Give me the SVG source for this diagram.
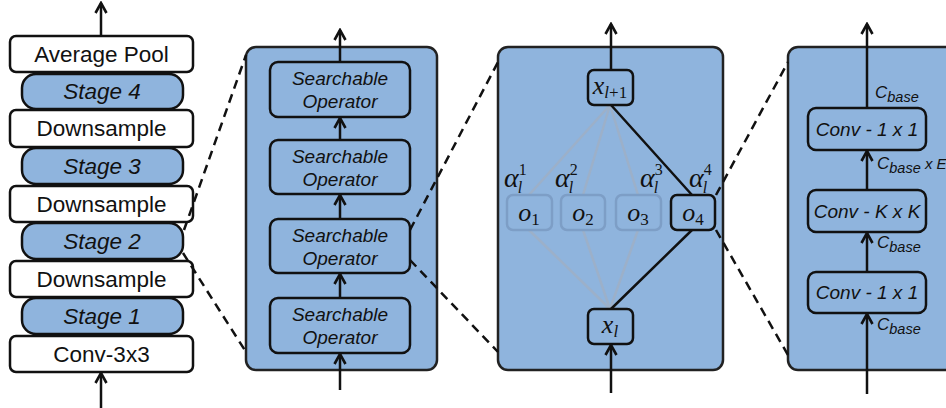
<svg xmlns="http://www.w3.org/2000/svg" width="946" height="408" viewBox="0 0 946 408">
  <defs>
    <marker id="arrow" viewBox="0 0 14 14" refX="12" refY="7" markerWidth="14" markerHeight="14" markerUnits="userSpaceOnUse" orient="auto">
      <path d="M2,1.5 L12,7 L2,12.5" fill="none" stroke="#111" stroke-width="2.6"/>
    </marker>
    <style>
      .box { fill: #ffffff; stroke: #111; stroke-width: 2.5; }
      .blue { fill: #8fb4dd; stroke: #111; stroke-width: 2.5; }
      .panel { fill: #8fb4dd; stroke: #222; stroke-width: 2.5; }
      .lbl { font-family: "Liberation Sans", Arial, sans-serif; fill: #111; text-anchor: middle; }
      .big { font-size: 22.5px; }
      .ital { font-style: italic; }
      .mid { font-size: 19px; }
      .chan { font-family: "Liberation Sans", Arial, sans-serif; font-style: italic; fill: #111; font-size: 17px; }
      .chan .sub { font-size: 14.5px; }
      .math { font-family: "Liberation Serif", "Times New Roman", serif; fill: #111; }
      .mi { font-style: italic; }
      .flow { stroke: #111; stroke-width: 2.5; fill: none; marker-end: url(#arrow); }
      .edge { stroke: #111; stroke-width: 2.5; fill: none; }
      .faint-edge { stroke: #9cb0c9; stroke-width: 2.5; fill: none; }
      .faint-box { fill: #8fb4dd; stroke: #7d9ec6; stroke-width: 2.5; }
      .dash { stroke: #111; stroke-width: 2.5; fill: none; stroke-dasharray: 9 6; }
    </style>
  </defs>

  <!-- Network backbone column -->
  <g id="net-avgpool">
    <rect class="box" x="10" y="36" width="183" height="36" rx="6"/>
    <text class="lbl big" x="101.5" y="62">Average Pool</text>
  </g>
  <g id="net-stage4">
    <rect class="blue" x="22" y="74" width="161" height="35" rx="14"/>
    <text class="lbl big ital" x="102" y="99">Stage 4</text>
  </g>
  <g id="net-down3">
    <rect class="box" x="10" y="110" width="183" height="37" rx="6"/>
    <text class="lbl big" x="101.5" y="136">Downsample</text>
  </g>
  <g id="net-stage3">
    <rect class="blue" x="22" y="148" width="161" height="36" rx="14"/>
    <text class="lbl big ital" x="102" y="174">Stage 3</text>
  </g>
  <g id="net-down2">
    <rect class="box" x="10" y="186" width="183" height="36" rx="6"/>
    <text class="lbl big" x="101.5" y="212">Downsample</text>
  </g>
  <g id="net-stage2">
    <rect class="blue" x="22" y="223" width="161" height="36" rx="14"/>
    <text class="lbl big ital" x="102" y="249">Stage 2</text>
  </g>
  <g id="net-down1">
    <rect class="box" x="10" y="261" width="183" height="36" rx="6"/>
    <text class="lbl big" x="101.5" y="287">Downsample</text>
  </g>
  <g id="net-stage1">
    <rect class="blue" x="22" y="298" width="161" height="36" rx="14"/>
    <text class="lbl big ital" x="102" y="324">Stage 1</text>
  </g>
  <g id="net-stem">
    <rect class="box" x="10" y="336" width="183" height="36" rx="6"/>
    <text class="lbl big" x="101.5" y="362">Conv-3x3</text>
  </g>

  <!-- Stage: stack of searchable operators -->
  <g id="stage-panel">
    <rect class="panel" x="246" y="47" width="191" height="323" rx="10"/>
  </g>
  <g id="op-4">
    <rect class="blue" x="270" y="62" width="140" height="55" rx="8"/>
    <text class="lbl mid ital" x="340" y="85">Searchable</text>
    <text class="lbl mid ital" x="340" y="108">Operator</text>
  </g>
  <g id="op-3">
    <rect class="blue" x="270" y="140" width="140" height="54" rx="8"/>
    <text class="lbl mid ital" x="340" y="163">Searchable</text>
    <text class="lbl mid ital" x="340" y="186">Operator</text>
  </g>
  <g id="op-2">
    <rect class="blue" x="270" y="219" width="140" height="54" rx="8"/>
    <text class="lbl mid ital" x="340" y="242">Searchable</text>
    <text class="lbl mid ital" x="340" y="265">Operator</text>
  </g>
  <g id="op-1">
    <rect class="blue" x="270" y="298" width="140" height="55" rx="8"/>
    <text class="lbl mid ital" x="340" y="321">Searchable</text>
    <text class="lbl mid ital" x="340" y="344">Operator</text>
  </g>

  <!-- Searchable operator: mixture of candidate ops -->
  <g id="mix-panel">
    <rect class="panel" x="498" y="47" width="225" height="323" rx="10"/>
  </g>
  <g id="mix-faint-edges">
    <path class="faint-edge" d="M610,105 L529,195 M610,105 L583,195 M610,105 L638,195 M610,309 L529,230 M610,309 L583,230 M610,309 L638,230"/>
  </g>
  <g id="cand-o1">
    <rect class="faint-box" x="507" y="195" width="45" height="35" rx="6"/>
    <text class="math" x="529" y="221" font-size="26" text-anchor="middle" fill="#1d2b3d"><tspan class="mi">o</tspan><tspan font-size="17" dy="4">1</tspan></text>
  </g>
  <g id="cand-o2">
    <rect class="faint-box" x="561" y="195" width="44" height="35" rx="6"/>
    <text class="math" x="583" y="221" font-size="26" text-anchor="middle" fill="#1d2b3d"><tspan class="mi">o</tspan><tspan font-size="17" dy="4">2</tspan></text>
  </g>
  <g id="cand-o3">
    <rect class="faint-box" x="616" y="195" width="45" height="35" rx="6"/>
    <text class="math" x="638" y="221" font-size="26" text-anchor="middle" fill="#1d2b3d"><tspan class="mi">o</tspan><tspan font-size="17" dy="4">3</tspan></text>
  </g>
  <g id="mix-edges">
    <path class="edge" d="M611,105 L692,195 M611,309 L692,230"/>
  </g>
  <g id="cand-o4">
    <rect class="blue" x="671" y="195" width="44" height="35" rx="6"/>
    <text class="math" x="693" y="221" font-size="26" text-anchor="middle"><tspan class="mi">o</tspan><tspan font-size="17" dy="4">4</tspan></text>
  </g>
  <g id="x-next">
    <rect class="blue" x="588" y="70" width="45" height="35" rx="6"/>
    <text class="math" x="610" y="94" font-size="26" text-anchor="middle"><tspan class="mi">x</tspan><tspan font-size="17" dy="4"><tspan class="mi">l</tspan>+1</tspan></text>
  </g>
  <g id="x-in">
    <rect class="blue" x="588" y="309" width="45" height="35" rx="6"/>
    <text class="math" x="610" y="333" font-size="26" text-anchor="middle"><tspan class="mi">x</tspan><tspan class="mi" font-size="17" dy="4">l</tspan></text>
  </g>
  <g id="alpha-labels" class="math">
    <text x="504" y="187" font-size="28"><tspan class="mi">α</tspan><tspan font-size="16" dy="-12">1</tspan><tspan class="mi" font-size="16" dx="-9" dy="18">l</tspan></text>
    <text x="555" y="187" font-size="28"><tspan class="mi">α</tspan><tspan font-size="16" dy="-12">2</tspan><tspan class="mi" font-size="16" dx="-9" dy="18">l</tspan></text>
    <text x="640" y="187" font-size="28"><tspan class="mi">α</tspan><tspan font-size="16" dy="-12">3</tspan><tspan class="mi" font-size="16" dx="-9" dy="18">l</tspan></text>
    <text x="689" y="187" font-size="28"><tspan class="mi">α</tspan><tspan font-size="16" dy="-12">4</tspan><tspan class="mi" font-size="16" dx="-9" dy="18">l</tspan></text>
  </g>

  <!-- Candidate op: inverted bottleneck -->
  <g id="block-panel">
    <rect class="panel" x="788" y="47" width="175" height="323" rx="10"/>
  </g>
  <g id="conv-pw2">
    <rect class="blue" x="808" y="108" width="118" height="42" rx="8"/>
    <text class="lbl mid ital" x="867" y="136">Conv - 1 x 1</text>
  </g>
  <g id="conv-dw">
    <rect class="blue" x="808" y="190" width="118" height="42" rx="8"/>
    <text class="lbl mid ital" x="867" y="218">Conv - K x K</text>
  </g>
  <g id="conv-pw1">
    <rect class="blue" x="808" y="272" width="118" height="41" rx="8"/>
    <text class="lbl mid ital" x="867" y="299">Conv - 1 x 1</text>
  </g>
  <g id="channel-labels">
    <text class="chan" x="875" y="98">C<tspan class="sub" dy="4">base</tspan></text>
    <text class="chan" x="877" y="169">C<tspan class="sub" dy="4">base</tspan><tspan font-size="15" dy="-4"> x E</tspan></text>
    <text class="chan" x="877" y="248">C<tspan class="sub" dy="4">base</tspan></text>
    <text class="chan" x="877" y="330">C<tspan class="sub" dy="4">base</tspan></text>
  </g>

  <!-- Data flow arrows and zoom-in guides -->
  <g id="connectors">
    <line class="flow" x1="101" y1="36" x2="101" y2="3"/>
    <line class="flow" x1="101" y1="408" x2="101" y2="373"/>

    <line class="flow" x1="340" y1="62" x2="340" y2="30"/>
    <line class="flow" x1="340" y1="140" x2="340" y2="118"/>
    <line class="flow" x1="340" y1="219" x2="340" y2="195"/>
    <line class="flow" x1="340" y1="298" x2="340" y2="274"/>
    <line class="flow" x1="340" y1="390" x2="340" y2="354"/>

    <line class="flow" x1="611" y1="70" x2="611" y2="24"/>
    <line class="flow" x1="611" y1="393" x2="611" y2="345"/>

    <line class="flow" x1="867" y1="108" x2="867" y2="24"/>
    <line class="flow" x1="867" y1="190" x2="867" y2="151"/>
    <line class="flow" x1="867" y1="272" x2="867" y2="233"/>
    <line class="flow" x1="867" y1="394" x2="867" y2="314"/>

    <line class="dash" x1="184" y1="230" x2="246" y2="55"/>
    <line class="dash" x1="183" y1="253" x2="246" y2="352"/>
    <line class="dash" x1="410" y1="230" x2="498" y2="62"/>
    <line class="dash" x1="410" y1="260" x2="498" y2="352"/>
    <line class="dash" x1="716" y1="195" x2="788" y2="62"/>
    <line class="dash" x1="716" y1="230" x2="788" y2="355"/>
  </g>
</svg>
